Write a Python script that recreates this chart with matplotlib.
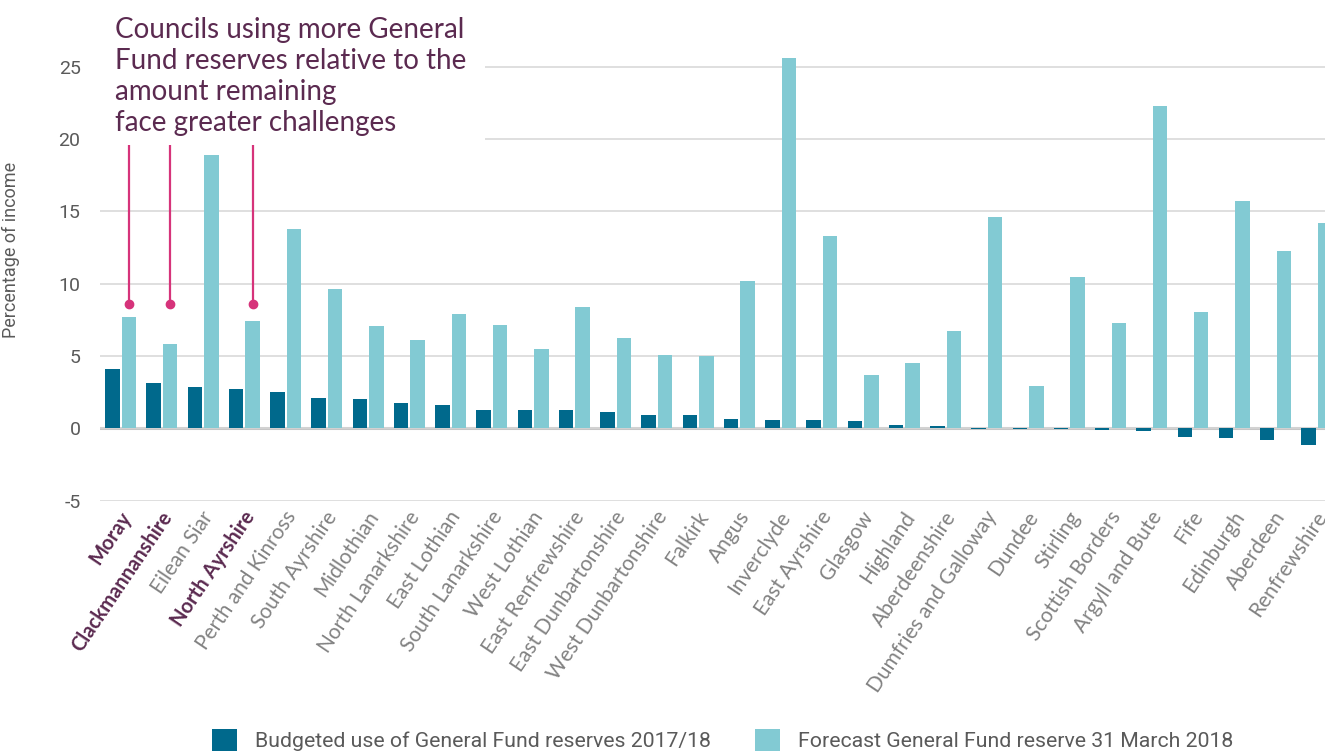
import matplotlib as mpl
mpl.use('Agg')
import matplotlib.pyplot as plt
from matplotlib.patches import Rectangle
import numpy as np

plt.rcParams['axes.unicode_minus'] = False

councils = ["Moray", "Clackmannanshire", "Eilean Siar", "North Ayrshire", "Perth and Kinross",
            "South Ayrshire", "Midlothian", "North Lanarkshire", "East Lothian", "South Lanarkshire",
            "West Lothian", "East Renfrewshire", "East Dunbartonshire", "West Dunbartonshire", "Falkirk",
            "Angus", "Inverclyde", "East Ayrshire", "Glasgow", "Highland",
            "Aberdeenshire", "Dumfries and Galloway", "Dundee", "Stirling", "Scottish Borders",
            "Argyll and Bute", "Fife", "Edinburgh", "Aberdeen", "Renfrewshire"]
budgeted = [4.1, 3.1, 2.85, 2.75, 2.5, 2.1, 2.0, 1.75, 1.6, 1.3,
            1.25, 1.25, 1.1, 0.95, 0.95, 0.62, 0.55, 0.55, 0.48, 0.22,
            0.14, -0.05, -0.05, -0.05, -0.1, -0.15, -0.6, -0.7, -0.78, -1.15]
forecast = [7.7, 5.8, 18.9, 7.4, 13.8, 9.6, 7.1, 6.1, 7.87, 7.15,
            5.5, 8.4, 6.25, 5.04, 4.97, 10.2, 25.6, 13.3, 3.66, 4.5,
            6.74, 14.6, 2.9, 10.47, 7.29, 22.3, 8.05, 15.72, 12.27, 14.2]
highlighted = ["Moray", "Clackmannanshire", "North Ayrshire"]
yticks = [-5, 0, 5, 10, 15, 20, 25]
legend_labels = ["Budgeted use of General Fund reserves 2017/18",
                 "Forecast General Fund reserve 31 March 2018"]
note = "Councils using more General\nFund reserves relative to the\namount remaining\nface greater challenges"

dark = '#00698c'
light = '#82cad3'
purple = '#5b2a50'
pink = '#d6337a'
grey = '#5a5a5a'

fig = plt.figure(figsize=(13.25, 7.51), dpi=100)
ax = fig.add_axes([0.0755, 0.3333, 0.9245, 0.5973])

x = np.arange(len(councils))
w = 0.35
b1 = ax.bar(x - 0.2, budgeted, w, color=dark, zorder=3, label=legend_labels[0])
b2 = ax.bar(x + 0.2, forecast, w, color=light, zorder=3, label=legend_labels[1])

ax.set_xlim(-0.5, 29.2)
ax.set_ylim(-5, 26)
ax.set_yticks(yticks)
ax.yaxis.grid(True, color='#d6d6d6', lw=1.1, zorder=0)
ax.axhline(0, color='#c6c6c6', lw=2.2, zorder=1)
for s in ax.spines.values():
    s.set_visible(False)
ax.tick_params(axis='y', length=0, pad=14, labelsize=14, labelcolor=grey)
ax.tick_params(axis='x', length=0, pad=9)
for t in ax.get_yticklabels():
    t.set_family(['Roboto', 'DejaVu Sans'])

ax.set_xticks(x)
ax.set_xticklabels(councils, rotation=56, ha='right', va='center', rotation_mode='anchor')
for t in ax.get_xticklabels():
    t.set_family(['Lato', 'DejaVu Sans'])
    if t.get_text() in highlighted:
        t.set_color(purple)
        t.set_fontweight('bold')
        t.set_fontsize(14.5)
    else:
        t.set_color('#828282')
        t.set_fontweight('normal')
        t.set_fontsize(15)
# shift labels slightly right of the group centre
off = mpl.transforms.ScaledTranslation(6 / 100, 0, fig.dpi_scale_trans)
for t in ax.get_xticklabels():
    t.set_transform(t.get_transform() + off)

ax.set_ylabel("Percentage of income", fontsize=13, color=grey,
              family=['Roboto', 'DejaVu Sans'])
ax.yaxis.set_label_coords(-0.065, 0.559)

# white block behind the note hides the top gridlines
ax.add_patch(Rectangle((-0.5, 19.65), 9.34, 12, facecolor='white', edgecolor='none',
                       zorder=2, clip_on=False))
ax.text(-0.14, 28.45, note, fontsize=20, color=purple, va='top', ha='left',
        family=['Lato', 'DejaVu Sans'], linespacing=1.25, zorder=5)

hx = [councils.index(c) + 0.2 for c in highlighted]
ax.vlines(hx, 8.6, 19.6, color=pink, lw=1.6, zorder=4)
ax.plot(hx, [8.6] * len(hx), 'o', color=pink, ms=6, zorder=4)

leg = fig.legend(handles=[b1, b2], loc='center left', bbox_to_anchor=(193 / 1325, 1 - 740 / 751),
                 ncol=2, frameon=False, handlelength=1.15, handleheight=1.2,
                 handletextpad=0.85, columnspacing=2.1,
                 prop={'family': ['Roboto', 'DejaVu Sans'], 'size': 15.3})
for t in leg.get_texts():
    t.set_color(grey)

plt.savefig('out.png', dpi=100)
